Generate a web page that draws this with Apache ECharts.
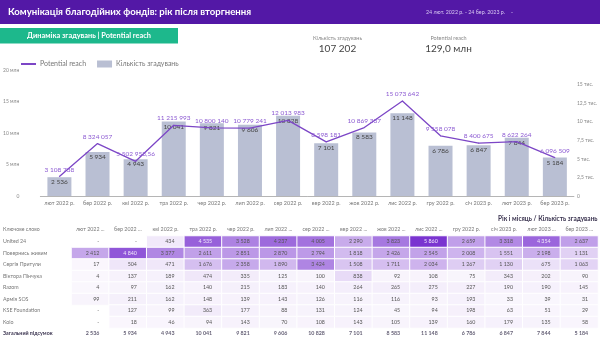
<!DOCTYPE html>
<html>
<head>
<meta charset="utf-8">
<script src="https://cdn.jsdelivr.net/npm/echarts@6/dist/echarts.min.js"></script>
<style>
  html, body { margin: 0; padding: 0; background: #fff; }
  #main { width: 600px; height: 352px; }
</style>
</head>
<body>
<div id="main"></div>
<script>
// місяці для графіка
var months = ['лют 2022 р.', 'бер 2022 р.', 'кві 2022 р.', 'тра 2022 р.', 'чер 2022 р.', 'лип 2022 р.', 'сер 2022 р.',
    'вер 2022 р.', 'жов 2022 р.', 'лис 2022 р.', 'гру 2022 р.', 'січ 2023 р.', 'лют 2023 р.', 'бер 2023 р.'];
// заголовки стовпців таблиці (як обрізано у звіті)
var tableHeaders = ['лют 2022 ...', 'бер 2022 ...', 'кві 2022 р.', 'тра 2022 р.', 'чер 2022 р.', 'лип 2022 ...', 'сер 2022 ...',
    'вер 2022 ...', 'жов 2022 ...', 'лис 2022 ...', 'гру 2022 р.', 'січ 2023 р.', 'лют 2023 ...', 'бер 2023 ...'];
var mentions = [2536, 5934, 4943, 10041, 9821, 9606, 10828, 7101, 8583, 11148, 6786, 6847, 7844, 5184];
var reach = [3108738, 8324057, 5502958.56, 11215993, 10800140, 10779241, 12013983, 8598181, 10869337, 15073642, 9558078, 8400675, 8622264, 6096509];

var keywords = ['United 24', 'Повернись живим', 'Сергія Притули', 'Віктора Пінчука', 'Razom', 'Армія SOS', 'KSE Foundation', 'Kolo'];
var totalLabel = 'Загальний підсумок';
var united24 = [null, null, 434, 4535, 3528, 4237, 4005, 2290, 3823, 5860, 2659, 3318, 4354, 2637];
var povernys = [2412, 4840, 3377, 2611, 2851, 2870, 2794, 1818, 2426, 2545, 2008, 1551, 2198, 1131];
var prytuly = [17, 504, 471, 1676, 2358, 1890, 3424, 1508, 1711, 2034, 1267, 1130, 675, 1063];
var pinchuk = [4, 137, 189, 474, 335, 125, 100, 838, 92, 108, 75, 343, 202, 90];
var razom = [4, 97, 162, 140, 215, 183, 140, 264, 265, 275, 227, 190, 190, 145];
var armySos = [99, 211, 162, 148, 139, 143, 126, 116, 116, 93, 193, 33, 39, 31];
var kse = [null, 127, 99, 363, 177, 88, 131, 124, 45, 94, 198, 63, 51, 29];
var kolo = [null, 18, 46, 94, 143, 70, 108, 143, 105, 139, 160, 179, 135, 58];
var tableRows = [united24, povernys, prytuly, pinchuk, razom, armySos, kse, kolo];

var FONT = 'Lato, "Noto Sans", sans-serif';

function fmt(v) {
    var parts = String(v).split('.');
    var s = parts[0].replace(/\B(?=(\d{3})+(?!\d))/g, ' ');
    return parts.length > 1 ? s + ',' + parts[1] : s;
}

function txt(x, y, text, font, color, align) {
    return {
        type: 'text', x: x, y: y,
        style: { text: text, font: font, fill: color, align: align || 'left', verticalAlign: 'middle' }
    };
}

var heatData = [], dashData = [], totalData = [], maxCell = 0;
for (var r = 0; r < tableRows.length; r++) {
    for (var c = 0; c < tableRows[r].length; c++) {
        var v = tableRows[r][c];
        if (v == null) {
            dashData.push([c, r, '-']);
        } else {
            heatData.push({
                value: [c, r, v],
                label: { color: v > 4300 ? '#f1eafb' : '#555' }
            });
            if (v > maxCell) maxCell = v;
        }
    }
}
for (var i = 0; i < mentions.length; i++) {
    totalData.push([i, keywords.length, mentions[i]]);
}

var chart = echarts.init(document.getElementById('main'));
var option = {
    animation: false,
    textStyle: { fontFamily: FONT },
    graphic: [
        { type: 'rect', x: 0, y: 0, shape: { width: 600, height: 24 }, style: { fill: '#5318a6' } },
        txt(8, 12, 'Комунікація благодійних фондів: рік після вторгнення', 'bold 9.6px ' + FONT, '#fff'),
        txt(426, 12.5, '24 лют. 2022 р. - 24 бер. 2023 р.', '5.3px ' + FONT, '#d9c9f2'),
        txt(511, 12.5, '-', '5.3px ' + FONT, '#d9c9f2'),
        { type: 'rect', x: 0, y: 28, shape: { width: 178, height: 15.5 }, style: { fill: '#1db88c' } },
        txt(89, 35.8, 'Динаміка згадувань | Potential reach', 'bold 7.4px ' + FONT, '#fff', 'center'),
        txt(337.5, 38.3, 'Кількість згадувань', '5.5px ' + FONT, '#888', 'center'),
        txt(337.5, 48.5, fmt(107202), '10px ' + FONT, '#444', 'center'),
        txt(448.5, 38.3, 'Potential reach', '5.5px ' + FONT, '#888', 'center'),
        txt(448.5, 48.5, '129,0 млн', '10px ' + FONT, '#444', 'center'),
        txt(597.5, 218.5, 'Рік і місяць / Кількість згадувань', 'bold 6.5px ' + FONT, '#3b3450', 'right'),
        txt(3, 229.5, 'Ключове слово', '5.2px ' + FONT, '#777')
    ],
    legend: {
        left: 15,
        top: 55.5,
        itemWidth: 15,
        itemHeight: 7,
        itemGap: 11,
        textStyle: { fontSize: 7, color: '#777', fontFamily: FONT, padding: [0, 0, 0, -1] },
        data: [
            { name: 'Potential reach', itemStyle: { opacity: 0 } },
            { name: 'Кількість згадувань', icon: 'rect' }
        ]
    },
    grid: [
        { left: 39.5, right: 22.5, top: 70, height: 126 },
        { left: 71.5, right: 2, top: 236, height: 103.5 }
    ],
    xAxis: [
        {
            type: 'category',
            gridIndex: 0,
            data: months,
            axisLine: { lineStyle: { color: '#b5b5b5' } },
            axisTick: { show: false },
            axisLabel: { fontSize: 5.5, color: '#777', margin: 4, interval: 0 }
        },
        {
            type: 'category',
            gridIndex: 1,
            position: 'top',
            data: tableHeaders,
            axisLine: { show: false },
            axisTick: { show: false },
            axisLabel: { fontSize: 5.3, color: '#777', margin: 4, interval: 0 }
        }
    ],
    yAxis: [
        {
            type: 'value',
            gridIndex: 0,
            min: 0,
            max: 20000000,
            interval: 5000000,
            splitLine: { show: false },
            axisLabel: {
                fontSize: 5, color: '#888', margin: 21,
                formatter: function (v) { return v === 0 ? '0' : (v / 1000000) + ' млн'; }
            }
        },
        {
            type: 'value',
            gridIndex: 0,
            min: 0,
            max: 17000,
            interval: 2500,
            splitLine: { show: false },
            axisLabel: {
                fontSize: 5, color: '#888', margin: 3, showMaxLabel: false,
                formatter: function (v) { return v === 0 ? '0' : String(v / 1000).replace('.', ',') + ' тис.'; }
            }
        },
        {
            type: 'category',
            gridIndex: 1,
            inverse: true,
            data: keywords.concat([totalLabel]),
            axisLine: { show: false },
            axisTick: { show: false },
            axisLabel: {
                fontSize: 5.3, color: '#777', align: 'left', margin: 68.5, interval: 0,
                formatter: function (v) { return v === totalLabel ? '{b|' + v + '}' : v; },
                rich: { b: { fontSize: 5.3, fontWeight: 'bold', color: '#3b3450', fontFamily: FONT } }
            }
        }
    ],
    visualMap: {
        show: false,
        seriesIndex: 2,
        min: 0,
        max: maxCell,
        inRange: { color: ['#faf7fd', '#7a34d0'] }
    },
    series: [
        {
            name: 'Кількість згадувань',
            type: 'bar',
            xAxisIndex: 0,
            yAxisIndex: 1,
            barWidth: 24,
            data: mentions,
            itemStyle: { color: '#b9bfd3' },
            label: {
                show: true, position: 'insideTop', distance: 1.5,
                fontSize: 6.5, color: '#444',
                formatter: function (p) { return fmt(p.value); }
            },
            z: 1
        },
        {
            name: 'Potential reach',
            type: 'line',
            xAxisIndex: 0,
            yAxisIndex: 0,
            data: reach,
            symbol: 'circle',
            symbolSize: 1,
            lineStyle: { color: '#7c46c6', width: 1.3 },
            itemStyle: { color: '#7c46c6' },
            label: {
                show: true, position: 'top', distance: 3,
                fontSize: 6.5, color: '#8c5ad2',
                formatter: function (p) { return fmt(p.value); }
            },
            z: 3
        },
        {
            name: 'table',
            type: 'heatmap',
            xAxisIndex: 1,
            yAxisIndex: 2,
            data: heatData,
            itemStyle: { borderColor: '#fff', borderWidth: 1 },
            label: {
                show: true, align: 'right', offset: [9, 0],
                fontSize: 5.3, color: '#555',
                formatter: function (p) { return fmt(p.value[2]); }
            }
        },
        {
            name: 'dash',
            type: 'scatter',
            xAxisIndex: 1,
            yAxisIndex: 2,
            data: dashData,
            symbolSize: 1,
            itemStyle: { color: 'rgba(0,0,0,0)' },
            label: {
                show: true, position: 'inside', align: 'right', offset: [9, 0],
                fontSize: 5.3, color: '#555',
                formatter: function (p) { return p.value[2]; }
            }
        },
        {
            name: 'total',
            type: 'scatter',
            xAxisIndex: 1,
            yAxisIndex: 2,
            data: totalData,
            symbolSize: 1,
            itemStyle: { color: 'rgba(0,0,0,0)' },
            label: {
                show: true, position: 'inside', align: 'right', offset: [9, 0],
                fontSize: 5.3, fontWeight: 'bold', color: '#3b3450',
                formatter: function (p) { return fmt(p.value[2]); }
            }
        }
    ]
};
chart.setOption(option);
</script>
</body>
</html>
